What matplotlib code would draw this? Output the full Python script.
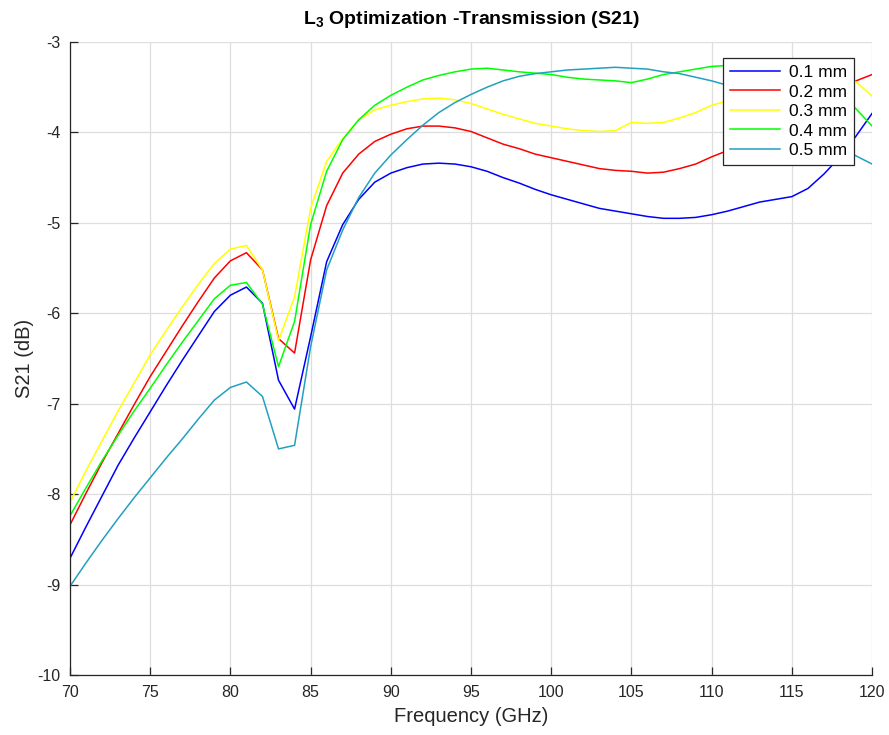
import numpy as np
import matplotlib
matplotlib.use("Agg")
import matplotlib.pyplot as plt

plt.rcParams['font.family'] = ['Liberation Sans', 'DejaVu Sans']
plt.rcParams['axes.unicode_minus'] = False
plt.rcParams['mathtext.fontset'] = 'custom'
plt.rcParams['mathtext.rm'] = 'Liberation Sans'
plt.rcParams['mathtext.bf'] = 'Liberation Sans:bold'

# Frequency grid (GHz)
freq = list(range(70, 121))

# S21 (dB) for each L3 width
s21_01 = [-8.71, -8.36, -8.02, -7.68, -7.38, -7.09, -6.80, -6.52, -6.25, -5.98,
          -5.80, -5.71, -5.89, -6.74, -7.06, -6.26, -5.43, -5.02, -4.74, -4.55,
          -4.45, -4.39, -4.35, -4.34, -4.35, -4.38, -4.43, -4.50, -4.56, -4.63,
          -4.69, -4.74, -4.79, -4.84, -4.87, -4.90, -4.93, -4.95, -4.95, -4.94,
          -4.91, -4.87, -4.82, -4.77, -4.74, -4.71, -4.62, -4.46, -4.27, -4.04,
          -3.79]
s21_02 = [-8.34, -7.99, -7.65, -7.33, -7.01, -6.70, -6.42, -6.14, -5.87, -5.61,
          -5.42, -5.33, -5.52, -6.28, -6.44, -5.41, -4.81, -4.45, -4.24, -4.10,
          -4.02, -3.96, -3.93, -3.93, -3.95, -3.99, -4.06, -4.13, -4.18, -4.24,
          -4.28, -4.32, -4.36, -4.40, -4.42, -4.43, -4.45, -4.44, -4.40, -4.35,
          -4.27, -4.20, -4.12, -4.03, -3.93, -3.83, -3.72, -3.62, -3.52, -3.43,
          -3.36]
s21_03 = [-8.09, -7.74, -7.41, -7.08, -6.77, -6.46, -6.19, -5.93, -5.68, -5.45,
          -5.29, -5.25, -5.52, -6.30, -5.82, -4.84, -4.32, -4.07, -3.86, -3.75,
          -3.70, -3.66, -3.63, -3.62, -3.64, -3.68, -3.74, -3.80, -3.85, -3.90,
          -3.93, -3.96, -3.98, -3.99, -3.98, -3.89, -3.90, -3.89, -3.84, -3.78,
          -3.70, -3.65, -3.59, -3.54, -3.50, -3.47, -3.45, -3.43, -3.42, -3.44,
          -3.60]
s21_04 = [-8.24, -7.93, -7.63, -7.35, -7.08, -6.83, -6.57, -6.32, -6.08, -5.84,
          -5.69, -5.66, -5.90, -6.59, -6.09, -5.02, -4.43, -4.08, -3.86, -3.70,
          -3.59, -3.50, -3.42, -3.37, -3.33, -3.30, -3.29, -3.31, -3.33, -3.345,
          -3.36, -3.39, -3.41, -3.42, -3.43, -3.45, -3.41, -3.36, -3.33, -3.30,
          -3.27, -3.26, -3.25, -3.25, -3.27, -3.31, -3.38, -3.47, -3.58, -3.74,
          -3.93]
s21_05 = [-9.02, -8.76, -8.51, -8.27, -8.04, -7.82, -7.60, -7.39, -7.17, -6.96,
          -6.82, -6.76, -6.92, -7.50, -7.46, -6.37, -5.52, -5.08, -4.72, -4.45,
          -4.25, -4.08, -3.92, -3.78, -3.67, -3.58, -3.50, -3.43, -3.38, -3.35,
          -3.33, -3.31, -3.30, -3.29, -3.28, -3.29, -3.30, -3.33, -3.35, -3.39,
          -3.43, -3.48, -3.56, -3.66, -3.76, -3.86, -3.96, -4.06, -4.16, -4.26,
          -4.35]

labels = ['0.1 mm', '0.2 mm', '0.3 mm', '0.4 mm', '0.5 mm']
colors = ['#0000ff', '#ff0000', '#ffff00', '#00ff00', '#22a0c0']
series = [s21_01, s21_02, s21_03, s21_04, s21_05]

x_ticks = list(range(70, 121, 5))
y_ticks = list(range(-10, -2))

fig = plt.figure(figsize=(8.89, 7.35), dpi=100)
ax = fig.add_axes([0.0787, 0.0816, 0.9023, 0.8613])

for y, c, lab in zip(series, colors, labels):
    ax.plot(freq, y, color=c, lw=1.1, label=lab)

ax.set_xlim(70, 120)
ax.set_ylim(-10, -3)
ax.set_xticks(x_ticks)
ax.set_yticks(y_ticks)
ax.grid(True, color='#dedede', lw=0.9)
ax.set_axisbelow(True)

for side in ('top', 'right'):
    ax.spines[side].set_visible(False)
for side in ('left', 'bottom'):
    ax.spines[side].set_color('#262626')
    ax.spines[side].set_linewidth(0.9)

ax.tick_params(direction='in', length=6, width=0.9, colors='#262626',
               labelsize=11.5, pad=7)

ax.set_xlabel('Frequency (GHz)', fontsize=14.5, color='#262626', labelpad=5)
ax.set_ylabel('S21 (dB)', fontsize=14.5, color='#262626', labelpad=2)
ax.set_title(r'L$_\mathbf{3}$ Optimization -Transmission (S21)', fontsize=14,
             fontweight='bold', color='black', pad=13)

leg = ax.legend(loc='upper right', bbox_to_anchor=(0.9776, 0.9747),
                borderaxespad=0, fontsize=12.5, handlelength=2.9,
                frameon=True, fancybox=False, labelspacing=0.25,
                borderpad=0.4, handletextpad=0.5)
leg.get_frame().set_edgecolor('#262626')
leg.get_frame().set_linewidth(0.9)
leg.get_frame().set_alpha(1)

fig.savefig('out.png', dpi=100, facecolor='white')
